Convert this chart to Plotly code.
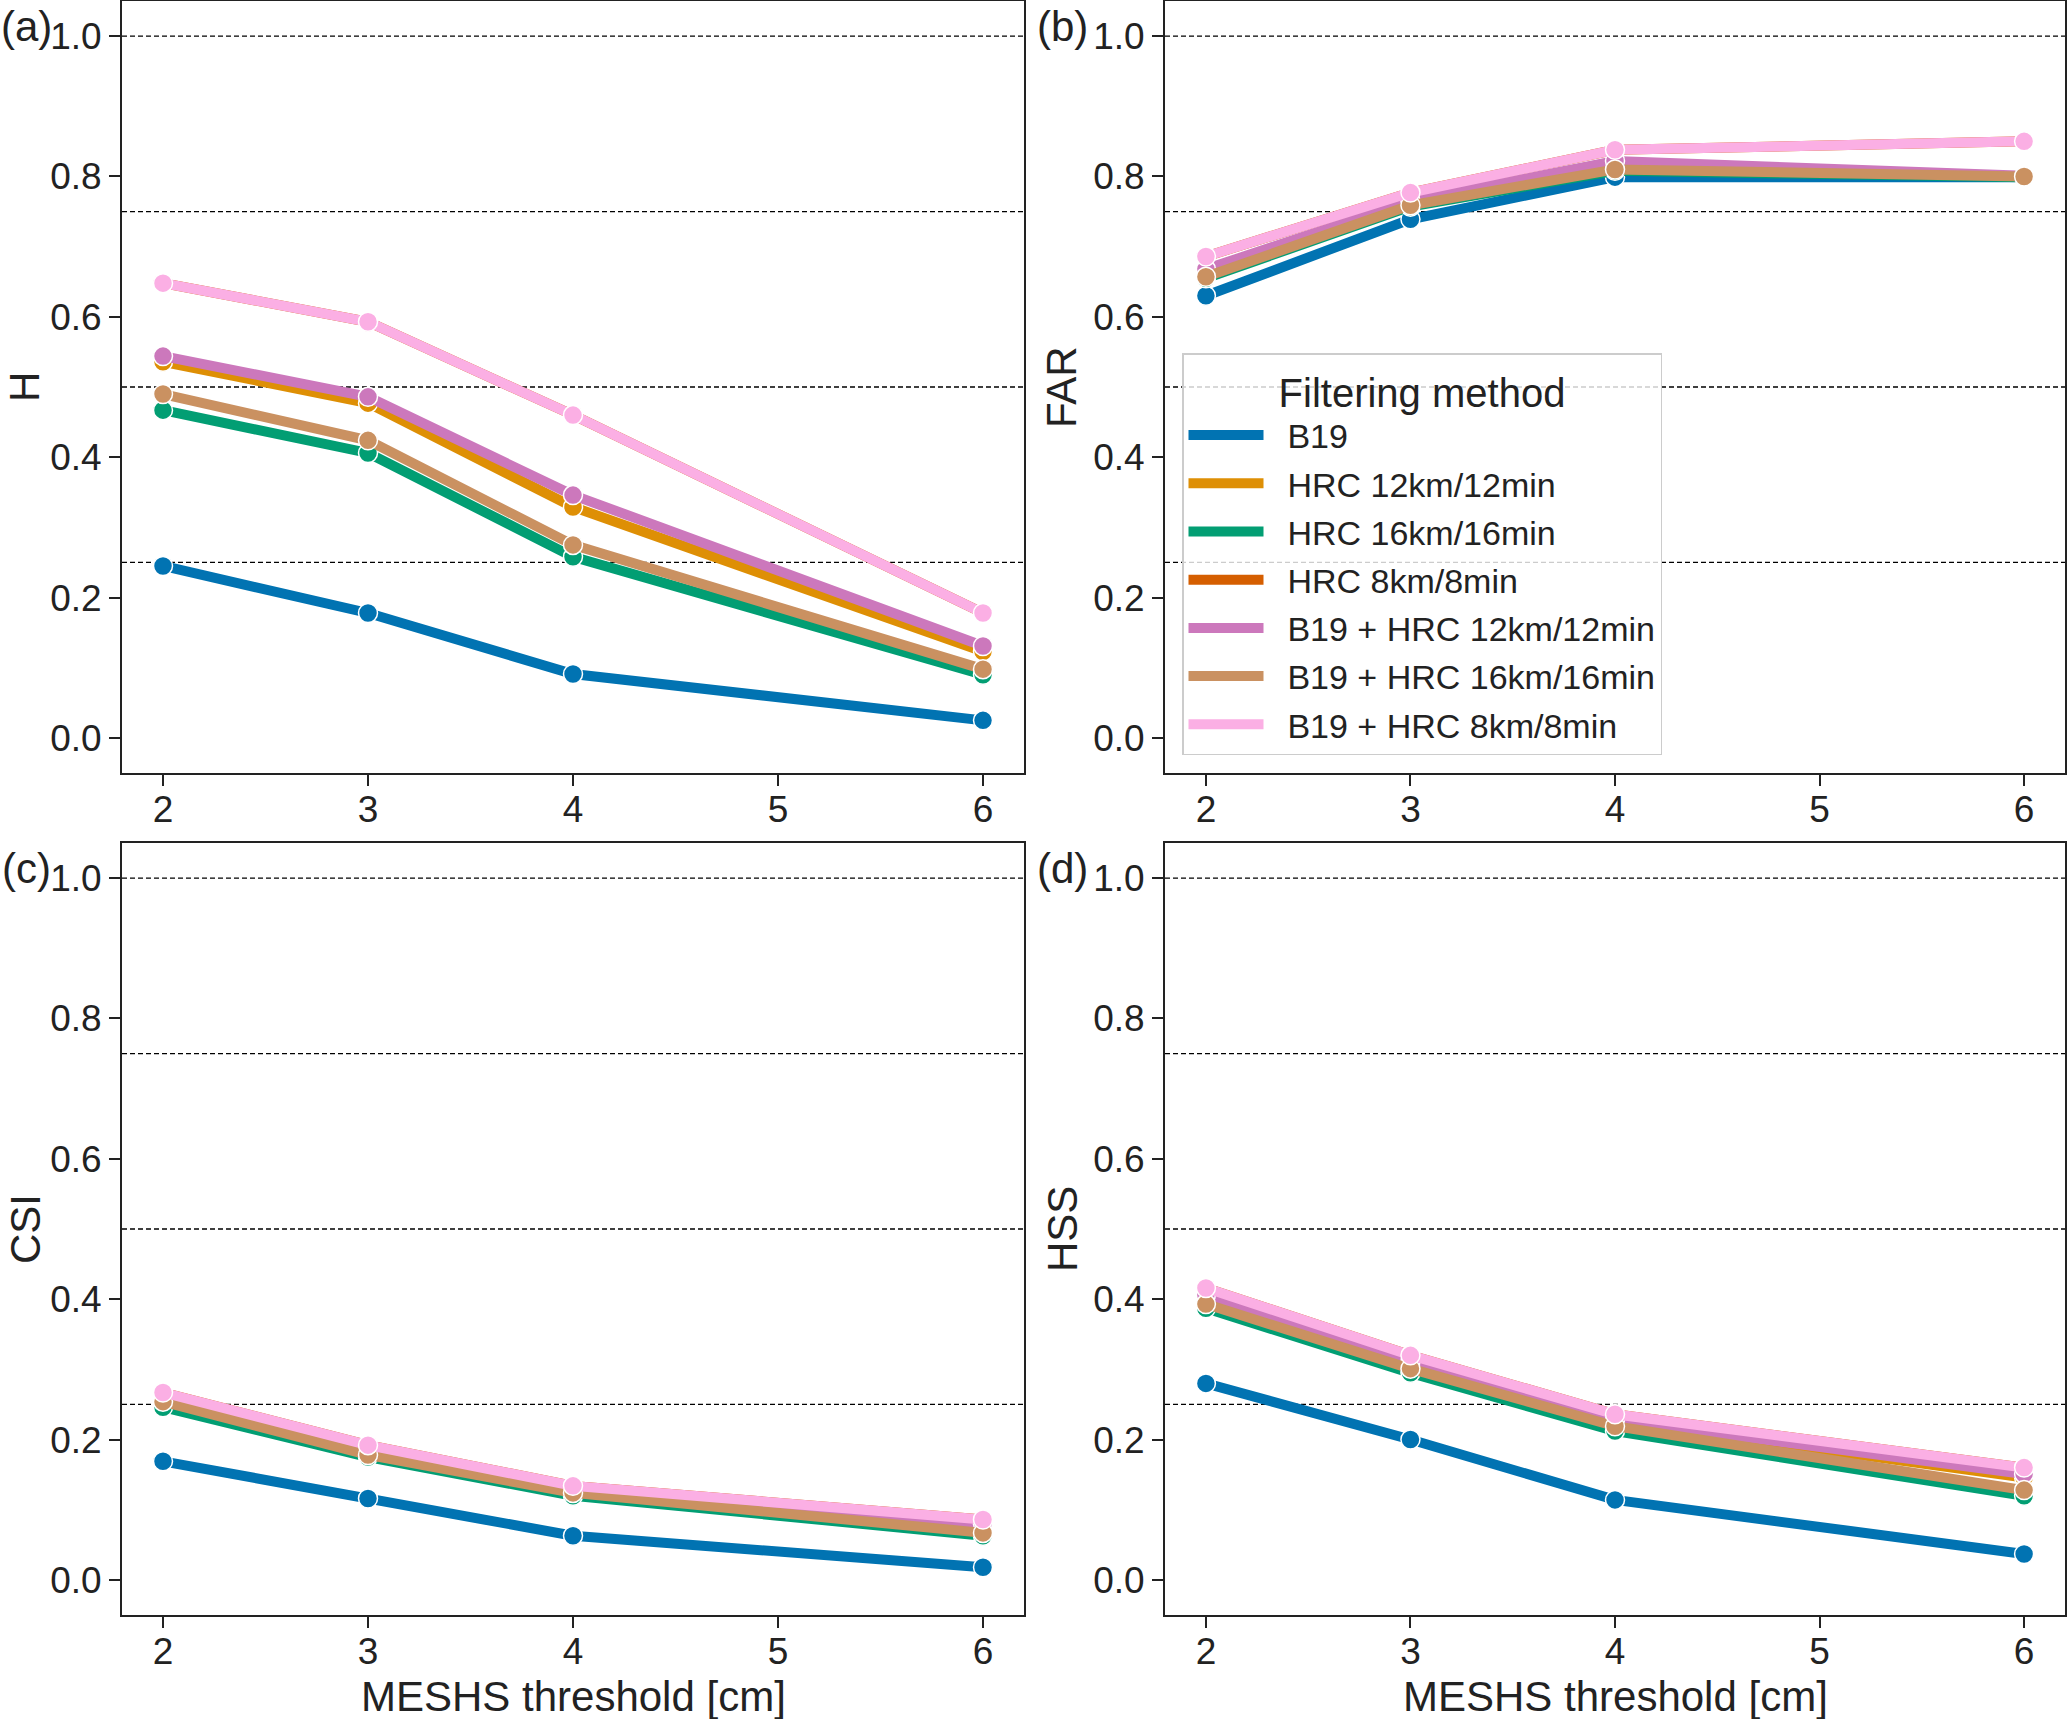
import plotly.graph_objects as go
from plotly.subplots import make_subplots

# MESHS thresholds [cm]
thresholds = [2, 3, 4, 6]

methods = ["B19", "HRC 12km/12min", "HRC 16km/16min", "HRC 8km/8min",
           "B19 + HRC 12km/12min", "B19 + HRC 16km/16min", "B19 + HRC 8km/8min"]
colors = ["#0173b2", "#de8f05", "#029e73", "#d55e00", "#cc78bc", "#ca9161", "#fbafe4"]

# H (hit rate)
h_b19 = [0.245, 0.178, 0.091, 0.025]
h_hrc12 = [0.536, 0.477, 0.329, 0.123]
h_hrc16 = [0.467, 0.406, 0.258, 0.090]
h_hrc8 = [0.648, 0.593, 0.460, 0.178]
h_b19_hrc12 = [0.544, 0.486, 0.346, 0.131]
h_b19_hrc16 = [0.490, 0.424, 0.275, 0.098]
h_b19_hrc8 = [0.648, 0.593, 0.460, 0.178]

# FAR
far_b19 = [0.630, 0.739, 0.799, 0.799]
far_hrc12 = [0.660, 0.760, 0.815, 0.800]
far_hrc16 = [0.655, 0.757, 0.808, 0.799]
far_hrc8 = [0.686, 0.777, 0.838, 0.850]
far_b19_hrc12 = [0.668, 0.765, 0.822, 0.801]
far_b19_hrc16 = [0.657, 0.759, 0.810, 0.800]
far_b19_hrc8 = [0.686, 0.777, 0.838, 0.850]

# CSI
csi_b19 = [0.169, 0.116, 0.063, 0.018]
csi_hrc12 = [0.258, 0.184, 0.128, 0.078]
csi_hrc16 = [0.246, 0.175, 0.120, 0.063]
csi_hrc8 = [0.267, 0.192, 0.134, 0.086]
csi_b19_hrc12 = [0.260, 0.186, 0.130, 0.080]
csi_b19_hrc16 = [0.254, 0.178, 0.124, 0.067]
csi_b19_hrc8 = [0.267, 0.192, 0.134, 0.086]

# HSS
hss_b19 = [0.280, 0.200, 0.114, 0.037]
hss_hrc12 = [0.403, 0.309, 0.226, 0.146]
hss_hrc16 = [0.387, 0.295, 0.212, 0.120]
hss_hrc8 = [0.416, 0.320, 0.236, 0.160]
hss_b19_hrc12 = [0.406, 0.311, 0.228, 0.151]
hss_b19_hrc16 = [0.393, 0.301, 0.219, 0.128]
hss_b19_hrc8 = [0.416, 0.320, 0.236, 0.160]

panels = [
    ("H", "(a)", 1, 1, [h_b19, h_hrc12, h_hrc16, h_hrc8, h_b19_hrc12, h_b19_hrc16, h_b19_hrc8]),
    ("FAR", "(b)", 1, 2, [far_b19, far_hrc12, far_hrc16, far_hrc8, far_b19_hrc12, far_b19_hrc16, far_b19_hrc8]),
    ("CSI", "(c)", 2, 1, [csi_b19, csi_hrc12, csi_hrc16, csi_hrc8, csi_b19_hrc12, csi_b19_hrc16, csi_b19_hrc8]),
    ("HSS", "(d)", 2, 2, [hss_b19, hss_hrc12, hss_hrc16, hss_hrc8, hss_b19_hrc12, hss_b19_hrc16, hss_b19_hrc8]),
]

FONT = "Liberation Sans, Arial, sans-serif"
INK = "#222222"
W, H = 2067, 1719

fig = make_subplots(rows=2, cols=2)

for metric, tag, r, c, series in panels:
    for i, vals in enumerate(series):
        # line (legend entry) then markers, like seaborn
        fig.add_trace(go.Scatter(
            x=thresholds, y=vals, mode="lines", name="\u00a0\u00a0" + methods[i],
            line=dict(color=colors[i], width=10),
            showlegend=(r == 1 and c == 2), legendgroup=methods[i]
        ), row=r, col=c)
        fig.add_trace(go.Scatter(
            x=thresholds, y=vals, mode="markers", name=methods[i],
            marker=dict(color=colors[i], size=19, line=dict(color="white", width=1.5)),
            showlegend=False, legendgroup=methods[i]
        ), row=r, col=c)
    for lvl in [0.25, 0.5, 0.75, 1.0]:
        fig.add_hline(y=lvl, line=dict(color="black", width=1.3, dash="5px,3px"),
                      layer="below", row=r, col=c)

# panel positions in pixels (left, right, top, bottom)
boxes = {
    (1, 1): (122, 1024, 1, 773),
    (1, 2): (1165, 2065, 1, 773),
    (2, 1): (122, 1024, 843, 1615),
    (2, 2): (1165, 2065, 843, 1615),
}

annotations = []
for metric, tag, r, c, series in panels:
    l, rr, t, b = boxes[(r, c)]
    fig.update_xaxes(domain=[l / W, rr / W], row=r, col=c)
    fig.update_yaxes(domain=[1 - b / H, 1 - t / H], row=r, col=c)
    # y-axis title
    annotations.append(dict(
        text=metric, xref="paper", yref="paper",
        x=(25 if c == 1 else 1062) / W, y=1 - (t + b) / 2 / H,
        textangle=-90, showarrow=False, xanchor="center", yanchor="middle",
        font=dict(size=42, color=INK, family=FONT)))
    # panel tag
    annotations.append(dict(
        text=tag, xref="paper", yref="paper",
        x=(26 if c == 1 else 1062) / W, y=1 - (t + 26) / H,
        showarrow=False, xanchor="center", yanchor="middle",
        font=dict(size=42, color=INK, family=FONT)))
    if r == 2:
        annotations.append(dict(
            text="MESHS threshold [cm]", xref="paper", yref="paper",
            x=(l + rr) / 2 / W, y=1 - 1696 / H,
            showarrow=False, xanchor="center", yanchor="middle",
            font=dict(size=42, color=INK, family=FONT)))

fig.update_xaxes(range=[1.8, 6.2], tickvals=[2, 3, 4, 5, 6],
                 showline=True, mirror=True, linecolor=INK, linewidth=2,
                 ticks="outside", ticklen=11, tickwidth=2, tickcolor=INK,
                 showgrid=False, zeroline=False, ticklabelstandoff=-8,
                 tickfont=dict(size=37, color=INK, family=FONT))
fig.update_yaxes(range=[-0.05, 1.05], tickvals=[0, 0.2, 0.4, 0.6, 0.8, 1.0], tickformat=".1f",
                 showline=True, mirror=True, linecolor=INK, linewidth=2,
                 ticks="outside", ticklen=11, tickwidth=2, tickcolor=INK,
                 showgrid=False, zeroline=False,
                 tickfont=dict(size=37, color=INK, family=FONT))

fig.update_layout(
    width=W, height=H,
    margin=dict(l=0, r=0, t=0, b=0),
    plot_bgcolor="white", paper_bgcolor="white",
    font=dict(family=FONT, color=INK),
    annotations=annotations,
    legend=dict(
        x=1182 / W, y=1 - 353 / H, xanchor="left", yanchor="top",
        bgcolor="rgba(255,255,255,0.8)", bordercolor="#cccccc", borderwidth=1.5,
        font=dict(size=34, color=INK, family=FONT),
        title=dict(text="Filtering method", side="top center",
                   font=dict(size=40, color=INK, family=FONT)),
        itemwidth=75, tracegroupgap=1,
    ),
)

# page body margin would shift the figure; remove it
fig.write_html("out.html", config={"displayModeBar": False},
               post_script="document.body.style.margin='0px';")
